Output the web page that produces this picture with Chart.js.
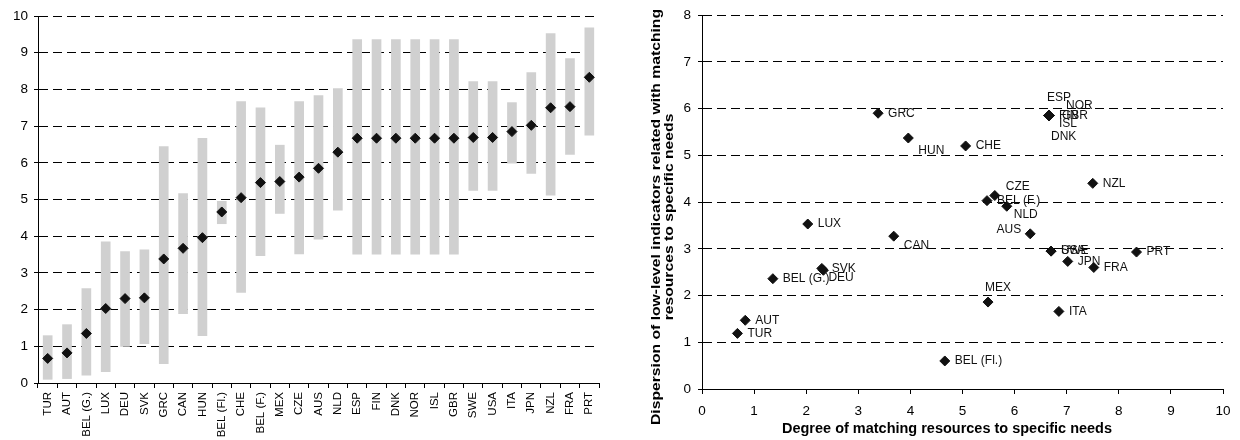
<!DOCTYPE html>
<html>
<head>
<meta charset="utf-8">
<script src="https://cdn.jsdelivr.net/npm/chart.js@4.4.1/dist/chart.umd.min.js"></script>
<style>
  body { margin: 0; background: #fff; }
  #left { position: absolute; left: 0; top: 0; }
  #right { position: absolute; left: 620px; top: 0; }
</style>
</head>
<body>
<canvas id="left" width="620" height="440"></canvas>
<canvas id="right" width="620" height="440"></canvas>
<script>
// left panel: countries ordered by degree of matching
const countries = ['TUR', 'AUT', 'BEL (G.)', 'LUX', 'DEU', 'SVK', 'GRC', 'CAN', 'HUN', 'BEL (Fl.)',
  'CHE', 'BEL (F.)', 'MEX', 'CZE', 'AUS', 'NLD', 'ESP', 'FIN', 'DNK', 'NOR', 'ISL', 'GBR',
  'SWE', 'USA', 'ITA', 'JPN', 'NZL', 'FRA', 'PRT'];
const matching = [0.67, 0.82, 1.35, 2.03, 2.30, 2.32, 3.38, 3.67, 3.96, 4.66,
  5.05, 5.46, 5.49, 5.61, 5.85, 6.29, 6.67, 6.67, 6.67, 6.67, 6.67, 6.67,
  6.69, 6.69, 6.85, 7.02, 7.50, 7.53, 8.33];
const rangeLow = [0.10, 0.12, 0.21, 0.31, 1.00, 1.07, 0.53, 1.89, 1.29, 4.34,
  2.47, 3.47, 4.62, 3.52, 3.92, 4.71, 3.51, 3.51, 3.51, 3.51, 3.51, 3.51,
  5.25, 5.25, 5.99, 5.71, 5.12, 6.23, 6.75];
const rangeHigh = [1.29, 1.59, 2.57, 3.85, 3.58, 3.63, 6.44, 5.16, 6.67, 4.95,
  7.67, 7.50, 6.48, 7.67, 7.83, 8.02, 9.36, 9.36, 9.36, 9.36, 9.36, 9.36,
  8.21, 8.21, 7.64, 8.46, 9.52, 8.84, 9.68];

// right panel: matching vs dispersion
const scatterLabels = ['TUR', 'AUT', 'BEL (G.)', 'LUX', 'DEU', 'SVK', 'GRC', 'CAN', 'HUN', 'BEL (Fl.)',
  'CHE', 'BEL (F.)', 'MEX', 'CZE', 'NLD', 'AUS', 'ESP', 'FIN', 'DNK', 'NOR', 'ISL', 'GBR',
  'SWE', 'USA', 'ITA', 'JPN', 'NZL', 'FRA', 'PRT'];
const scatterX = [0.68, 0.83, 1.36, 2.03, 2.33, 2.30, 3.38, 3.68, 3.96, 4.66,
  5.06, 5.47, 5.49, 5.62, 5.85, 6.30, 6.66, 6.66, 6.66, 6.66, 6.66, 6.66,
  6.70, 6.70, 6.85, 7.02, 7.50, 7.52, 8.34];
const scatterY = [1.19, 1.47, 2.36, 3.53, 2.54, 2.58, 5.90, 3.27, 5.37, 0.60,
  5.20, 4.03, 1.86, 4.14, 3.91, 3.32, 5.85, 5.85, 5.85, 5.85, 5.85, 5.85,
  2.95, 2.95, 1.66, 2.73, 4.40, 2.60, 2.93];

// where each point label sits relative to its marker (default: right of it)
const labelOffsets = {
  'DEU': {dx: 5, dy: 7},
  'CAN': {dx: 10, dy: 10},
  'HUN': {dx: 10, dy: 13},
  'ESP': {dx: 10, dy: -18, align: 'center'},
  'NOR': {dx: 17, dy: -10},
  'GBR': {dx: 13, dy: 0},
  'ISL': {dx: 10, dy: 8},
  'DNK': {dx: 2, dy: 21},
  'CZE': {dx: 11, dy: -9},
  'NLD': {dx: 7, dy: 8},
  'AUS': {dx: -9, dy: -4, align: 'right'},
  'MEX': {dx: 10, dy: -14, align: 'center'}
};

const FONT = '"Liberation Sans", Arial, sans-serif';
Chart.defaults.font.family = FONT;
Chart.defaults.color = '#000';
Chart.defaults.animation = false;

const dashGrid = {color: '#000', lineWidth: 1, tickLength: 4, drawTicks: true};

new Chart(document.getElementById('left'), {
  type: 'bar',
  data: {
    labels: countries,
    datasets: [{
      type: 'line',
      data: matching,
      showLine: false,
      pointStyle: 'rectRot',
      pointRadius: 5,
      pointBackgroundColor: '#111',
      pointBorderColor: '#111',
      pointBorderWidth: 1,
      order: 0
    }, {
      data: countries.map((c, i) => [rangeLow[i], rangeHigh[i]]),
      backgroundColor: '#d0d0d0',
      barThickness: 9,
      order: 1
    }]
  },
  options: {
    responsive: false,
    layout: {padding: {top: 16, right: 21, left: 0, bottom: 0}},
    plugins: {legend: {display: false}, tooltip: {enabled: false}},
    scales: {
      x: {
        grid: {drawOnChartArea: false, offset: true, tickLength: 5, color: '#000'},
        border: {color: '#000', width: 1},
        ticks: {autoSkip: false, minRotation: 90, maxRotation: 90, padding: 4, font: {size: 11.5}},
        afterFit(s) { s.height = 57; }
      },
      y: {
        min: 0, max: 10,
        grid: dashGrid,
        border: {color: '#000', width: 1, dash: [9, 5]},
        ticks: {stepSize: 1, padding: 6, font: {size: 13.5}},
        afterFit(s) { s.width = 38; }
      }
    }
  }
});

const pointLabels = {
  id: 'pointLabels',
  afterDatasetsDraw(chart) {
    const ctx = chart.ctx;
    const meta = chart.getDatasetMeta(0);
    ctx.save();
    ctx.font = '12px ' + FONT;
    ctx.fillStyle = '#111';
    ctx.textBaseline = 'middle';
    meta.data.forEach((pt, i) => {
      const name = scatterLabels[i];
      const o = labelOffsets[name] || {dx: 10, dy: 0};
      ctx.textAlign = o.align || 'left';
      ctx.fillText(name, pt.x + o.dx, pt.y + o.dy);
    });
    ctx.restore();
  }
};

// draws text centred at (x, y), stretched along its run to a given length
function fitText(ctx, text, x, y, len) {
  const w = ctx.measureText(text).width;
  ctx.save();
  ctx.translate(x, y);
  ctx.scale(len / w, 1);
  ctx.fillText(text, 0, 0);
  ctx.restore();
}

const axisTitles = {
  id: 'axisTitles',
  afterDraw(chart) {
    const ctx = chart.ctx;
    ctx.save();
    ctx.font = 'bold 14px ' + FONT;
    ctx.fillStyle = '#000';
    ctx.textAlign = 'center';
    ctx.textBaseline = 'middle';
    fitText(ctx, 'Degree of matching resources to specific needs', 327, 429, 330);
    ctx.translate(42, 217);
    ctx.rotate(-Math.PI / 2);
    ctx.font = 'bold 13.5px ' + FONT;
    const first = 'Dispersion of low-level indicators related with matching';
    const ratio = 416 / ctx.measureText(first).width;
    fitText(ctx, first, 0, -6, 416);
    const second = 'resources to specific needs';
    fitText(ctx, second, 0, 7, ctx.measureText(second).width * ratio);
    ctx.restore();
  }
};

new Chart(document.getElementById('right'), {
  type: 'scatter',
  data: {
    datasets: [{
      data: scatterX.map((x, i) => ({x: x, y: scatterY[i]})),
      pointStyle: 'rectRot',
      pointRadius: 5,
      pointBackgroundColor: '#111',
      pointBorderColor: '#111',
      pointBorderWidth: 1
    }]
  },
  options: {
    responsive: false,
    layout: {padding: {top: 15, right: 17, left: 0, bottom: 0}},
    plugins: {legend: {display: false}, tooltip: {enabled: false}},
    scales: {
      x: {
        min: 0, max: 10,
        grid: {drawOnChartArea: false, tickLength: 5, color: '#000'},
        border: {color: '#000', width: 1},
        ticks: {stepSize: 1, padding: 9, maxRotation: 0, font: {size: 13.5}},
        afterFit(s) { s.height = 51; }
      },
      y: {
        min: 0, max: 8,
        grid: dashGrid,
        border: {color: '#000', width: 1, dash: [9, 5]},
        ticks: {stepSize: 1, padding: 7, font: {size: 13.5}},
        afterFit(s) { s.width = 82; }
      }
    }
  },
  plugins: [pointLabels, axisTitles]
});
</script>
</body>
</html>
